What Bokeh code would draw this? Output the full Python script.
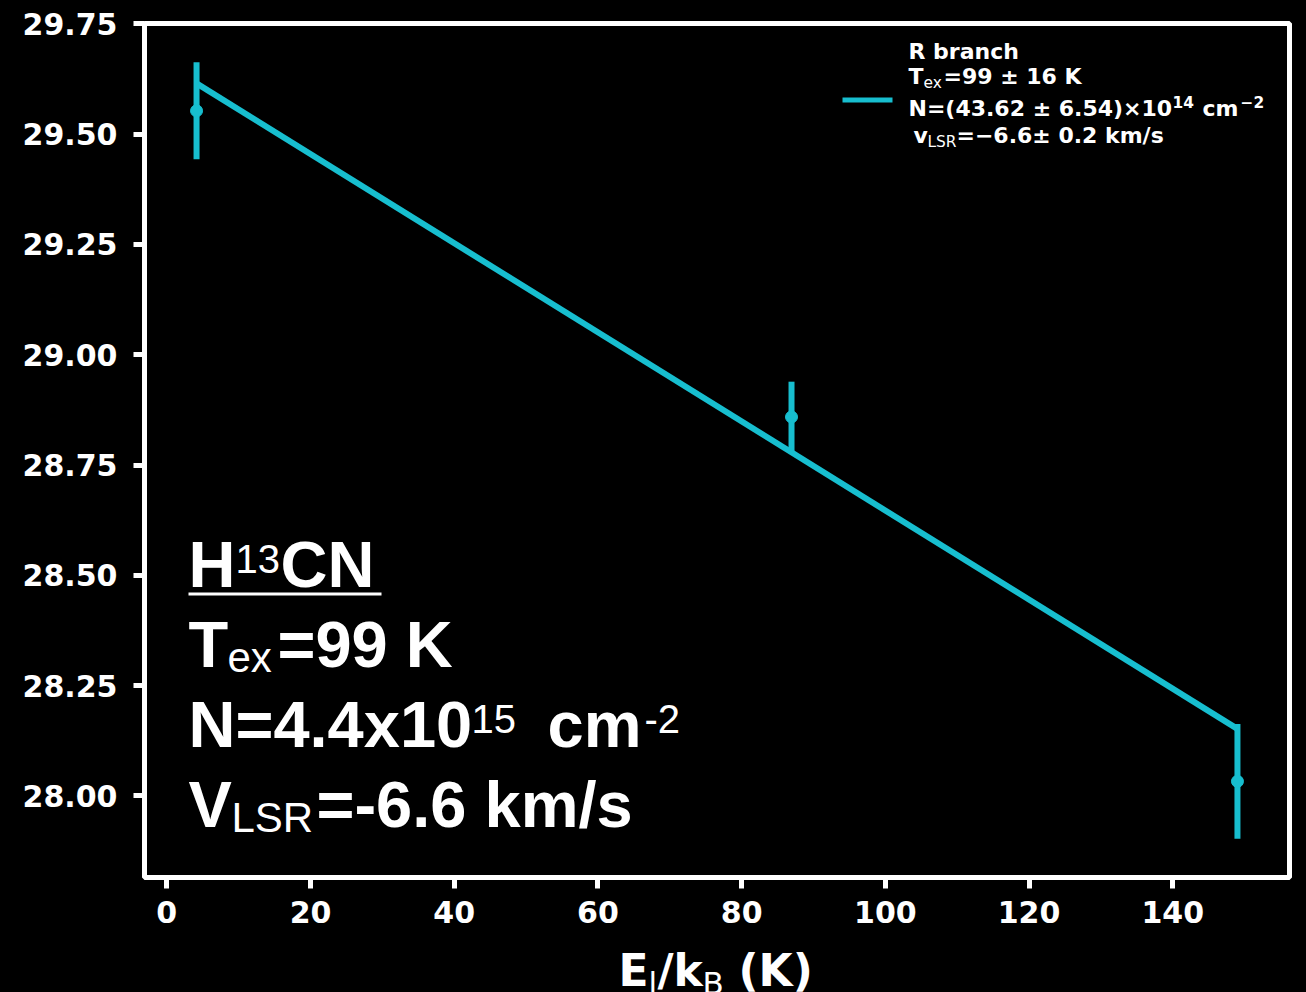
from bokeh.plotting import figure
from bokeh.layouts import column
from bokeh.models import Label, BoxAnnotation, FixedTicker, PrintfTickFormatter, Range1d
from bokeh.embed import file_html
from bokeh.resources import INLINE

# Rotation diagram of H13CN: lower-level energy (K) vs ln(N_u/g_u)
energy_k = [4.14, 86.94, 149.0]
ln_nu_gu = [29.553, 28.859, 28.033]
ln_err = [0.110, 0.080, 0.130]

# R-branch fit: slope = -1/T_ex
fit_tex = 99.0
fit_intercept = 29.657

x_ticks = [0, 20, 40, 60, 80, 100, 120, 140]
y_ticks = [28.00, 28.25, 28.50, 28.75, 29.00, 29.25, 29.50, 29.75]

CYAN = "#17becf"
W, H_MAIN, H_TITLE = 1306, 950, 42
FL, FT, FW, FH = 144, 23, 1145, 854  # frame box in pixels

lo = [v - e for v, e in zip(ln_nu_gu, ln_err)]
hi = [v + e for v, e in zip(ln_nu_gu, ln_err)]

# 5 % padding around the data
xspan = max(energy_k) - min(energy_k)
x0, x1 = min(energy_k) - 0.05 * xspan, max(energy_k) + 0.05 * xspan
yspan = max(hi) - min(lo)
y0, y1 = min(lo) - 0.05 * yspan, max(hi) + 0.05 * yspan

p = figure(width=W, height=H_MAIN, output_backend="svg", toolbar_location=None,
           x_range=Range1d(x0, x1), y_range=Range1d(y0, y1),
           min_border_left=FL, min_border_right=W - FL - FW,
           min_border_top=FT, min_border_bottom=H_MAIN - FT - FH)

p.background_fill_color = "black"
p.border_fill_color = "black"
p.outline_line_color = "white"
p.outline_line_width = 5
p.grid.visible = False

for ax in (p.xaxis, p.yaxis):
    ax.axis_line_color = None
    ax.major_tick_line_color = "white"
    ax.major_tick_line_width = 5
    ax.major_tick_out = 11
    ax.major_tick_in = 0
    ax.minor_tick_line_color = None
    ax.major_label_text_color = "white"
    ax.major_label_text_font = "DejaVu Sans"
    ax.major_label_text_font_style = "bold"
    ax.major_label_text_font_size = "30px"

p.xaxis.ticker = FixedTicker(ticks=x_ticks)
p.yaxis.ticker = FixedTicker(ticks=y_ticks)
p.xaxis.formatter = PrintfTickFormatter(format="%d")
p.yaxis.formatter = PrintfTickFormatter(format="%.2f")
p.xaxis.major_label_standoff = 12
p.yaxis.major_label_standoff = 16

# fit line across the measured energies
fit_x = [energy_k[0], energy_k[-1]]
fit_y = [fit_intercept - e / fit_tex for e in fit_x]
p.line(fit_x, fit_y, line_color=CYAN, line_width=6)

# error bars and points
p.segment(x0=energy_k, y0=lo, x1=energy_k, y1=hi, line_color=CYAN, line_width=6)
p.scatter(energy_k, ln_nu_gu, marker="circle", size=12, fill_color=CYAN, line_color=CYAN)


def X(px):
    return x0 + (px - FL) / FW * (x1 - x0)


def Y(py):
    return y1 - (py - FT) / FH * (y1 - y0)


def make_label(x, y, s, size, bold, family):
    return Label(x=x, y=y, text=s, text_font=family,
                 text_font_size=f"{size}px",
                 text_font_style="bold" if bold else "normal",
                 text_color="white", text_align="left",
                 text_baseline="alphabetic")


def txt(s, px, py, size, bold=True, family="DejaVu Sans"):
    # py is the wanted baseline; the label anchor sits a bit above it
    p.add_layout(make_label(X(px), Y(py - 0.35 * size), s, size, bold, family))


# legend
p.add_layout(BoxAnnotation(left=X(842), right=X(892), top=Y(97), bottom=Y(102),
                           fill_color=CYAN, fill_alpha=1, line_alpha=0))
txt("R branch", 908, 59, 22)
txt("T", 908, 84, 22)
txt("ex", 923, 88, 15.4, bold=False)
txt("=99 ± 16 K", 943, 84, 22)
txt("N=(43.62 ± 6.54)×10", 908, 116, 22)
txt("14", 1172, 107, 15.4)
txt("cm", 1202, 116, 22)
txt("−2", 1240, 107, 15.4)
txt("v", 913, 143, 22)
txt("LSR", 927, 147, 15.4, bold=False)
txt("=−6.6± 0.2 km/s", 956, 143, 22)

# summary block
BIG = "Liberation Sans"
txt("H", 188, 587, 65, family=BIG)
txt("13", 235, 572, 40, bold=False, family=BIG)
txt("CN", 280, 587, 65, family=BIG)
p.add_layout(BoxAnnotation(left=X(188), right=X(381), top=Y(592), bottom=Y(595),
                           fill_color="white", fill_alpha=1, line_alpha=0))
txt("T", 188, 667, 65, family=BIG)
txt("ex", 227, 672, 42, bold=False, family=BIG)
txt("=99 K", 277, 667, 65, family=BIG)
txt("N=4.4x10", 188, 747, 65, family=BIG)
txt("15", 471, 732, 40, bold=False, family=BIG)
txt("cm", 547, 747, 65, family=BIG)
txt("-2", 644, 732, 40, bold=False, family=BIG)
txt("V", 188, 827, 65, family=BIG)
txt("LSR", 231, 832, 42, bold=False, family=BIG)
txt("=-6.6 km/s", 316, 827, 65, family=BIG)

# strip under the plot carrying the x-axis title with subscripts;
# its frame lines up with the main frame, so it shares the x range
q = figure(width=W, height=H_TITLE, output_backend="svg", toolbar_location=None,
           x_range=p.x_range, y_range=Range1d(H_TITLE, 0),
           x_axis_type=None, y_axis_type=None,
           min_border_left=FL, min_border_right=W - FL - FW,
           min_border_top=0, min_border_bottom=0)
q.background_fill_color = "black"
q.border_fill_color = "black"
q.outline_line_color = None
q.grid.visible = False


def title_txt(s, px, py, size, bold=True):
    yy = py - H_MAIN - 0.35 * size
    q.add_layout(make_label(X(px), yy, s, size, bold, "DejaVu Sans"))


title_txt("E", 618, 985, 44)
title_txt("l", 648, 993, 31, bold=False)
title_txt("/k", 657, 985, 44)
title_txt("B", 702, 993, 31, bold=False)
title_txt("(K)", 738, 985, 44)

layout = column(p, q, spacing=0)
layout.styles = {"background-color": "black"}
open("out.html", "w").write(file_html(layout, INLINE))
